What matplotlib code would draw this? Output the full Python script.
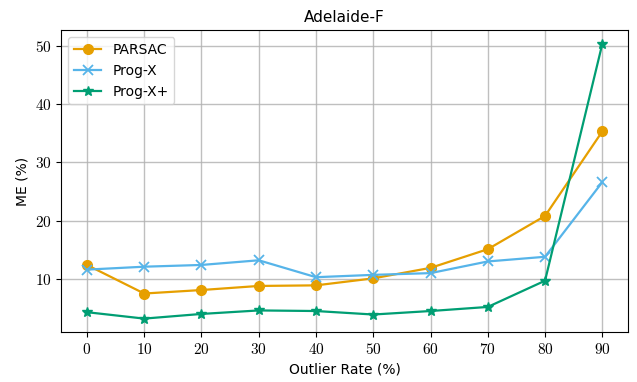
import matplotlib
matplotlib.use("Agg")
import matplotlib.pyplot as plt
from matplotlib.ticker import FuncFormatter

outlier_rates = [0, 10, 20, 30, 40, 50, 60, 70, 80, 90]
parsac = [12.4, 7.5, 8.1, 8.8, 8.9, 10.1, 11.9, 15.1, 20.8, 35.3]
prog_x = [11.6, 12.1, 12.4, 13.2, 10.3, 10.7, 11.0, 13.0, 13.8, 26.6]
prog_x_plus = [4.3, 3.2, 4.0, 4.6, 4.5, 3.9, 4.5, 5.2, 9.7, 50.3]

plt.rcParams['mathtext.fontset'] = 'cm'
plt.rcParams['font.family'] = ['DejaVu Sans']

fig, ax = plt.subplots(figsize=(6.37, 3.82), dpi=100)

ax.plot(outlier_rates, parsac, color='#E69F00', marker='o', markersize=7, linewidth=1.6, label='PARSAC')
ax.plot(outlier_rates, prog_x, color='#56B4E9', marker='x', markersize=7, markeredgewidth=1.3, linewidth=1.6, label='Prog-X')
ax.plot(outlier_rates, prog_x_plus, color='#009E73', marker='*', markersize=7, linewidth=1.6, label='Prog-X+')

ax.set_xticks(outlier_rates)
ax.set_yticks([10, 20, 30, 40, 50])
fmt = FuncFormatter(lambda v, p: r'$%d$' % v)
ax.xaxis.set_major_formatter(fmt)
ax.yaxis.set_major_formatter(fmt)
ax.tick_params(labelsize=11)
ax.grid(True, color='#b0b0b0', linewidth=1.0, alpha=0.8)

ax.set_title('Adelaide-F', fontsize=11)
ax.set_xlabel('Outlier Rate (%)', fontsize=10)
ax.set_ylabel('ME (%)', fontsize=10)
ax.legend(loc='upper left', fontsize=10)

fig.subplots_adjust(left=0.096, right=0.986, top=0.921, bottom=0.13)
fig.savefig('out.png', dpi=100)
